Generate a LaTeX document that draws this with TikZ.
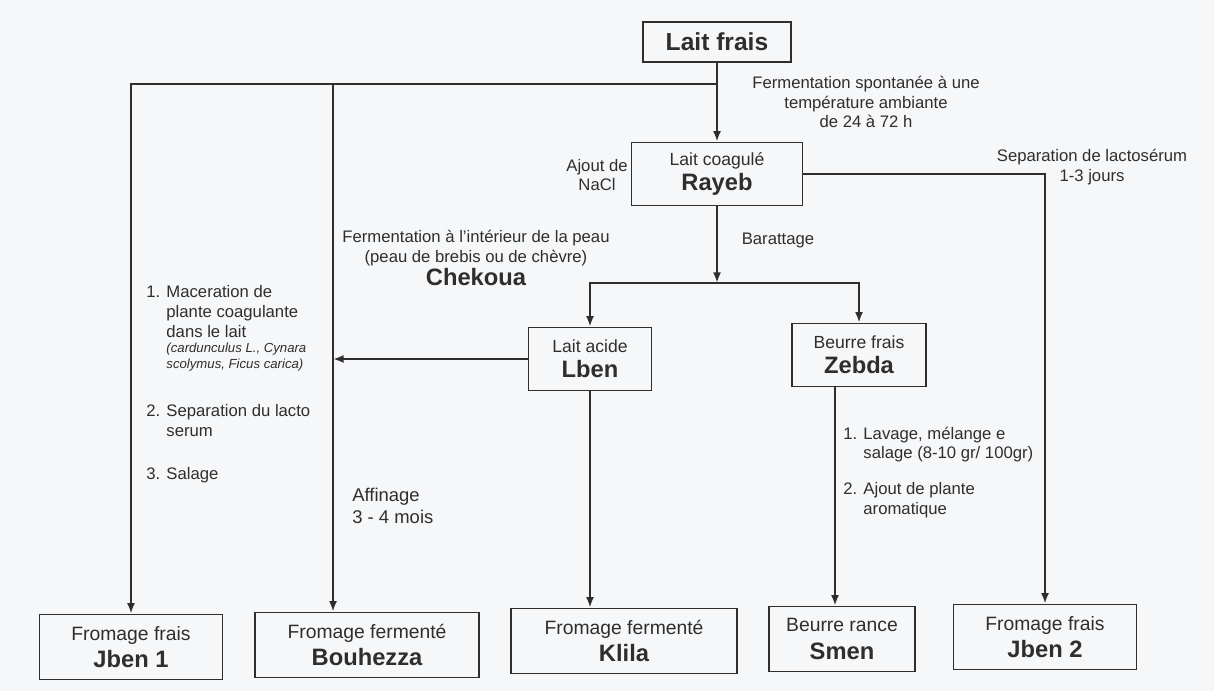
\documentclass[tikz,border=0pt]{standalone}
\usepackage{fontspec}
\setmainfont{Liberation Sans}
\usetikzlibrary{arrows.meta, positioning}
\definecolor{inkgray}{HTML}{2E2E2E}
\definecolor{paper}{HTML}{F6F7F9}
\newcommand\boxname[1]{{\fontsize{13.5}{16}\selectfont\bfseries #1}}

\begin{document}
\begin{tikzpicture}[x=0.02cm, y=-0.02cm,
    box/.style n args={2}{draw=inkgray, line width=0.9pt, minimum width=#1*0.02cm,
        minimum height=#2*0.02cm, inner sep=0pt, align=center, text=inkgray,
        font=\fontsize{10}{14.5}\selectfont},
    prod/.style={font=\fontsize{11}{15.5}\selectfont},
    link/.style={draw=inkgray, line width=1.2pt},
    arr/.style={link, -{Latex[length=6pt, width=4.5pt]}},
    note/.style={text=inkgray, font=\fontsize{9.5}{11.3}\selectfont, inner sep=0pt}]
    % Page
    \fill[paper] (0,0) rectangle (1214,691);
    \useasboundingbox (0,0) rectangle (1214,691);
    % Milk and its first products
    \node[box={148}{40}, font=\fontsize{14}{16}\selectfont\bfseries] (frais) at (717,42) {Lait frais};
    \node[box={171}{63}] (rayeb) at (717,174) {Lait coagulé\\\boxname{Rayeb}};
    \node[box={123}{63}] (lben) at (590,359) {Lait acide\\\boxname{Lben}};
    \node[box={134}{63}] (zebda) at (859,355) {Beurre frais\\\boxname{Zebda}};
    % Final products
    \foreach \nm/\cx/\cy/\w/\kind/\prodname in {
        jbenA/131/647/183/Fromage frais/Jben 1,
        bouh/367/645/224/Fromage fermenté/Bouhezza,
        klila/624/641/226/Fromage fermenté/Klila,
        smen/842/639/146/Beurre rance/Smen,
        jbenB/1045/637/183/Fromage frais/Jben 2}
        \node[box={\w}{65}, prod] (\nm) at (\cx,\cy) {\kind\\\boxname{\prodname}};
    % Junctions
    \coordinate (jtop) at (717,84);
    \coordinate (colB) at (333,84);
    \coordinate (jmid) at (717,283);
    \coordinate (colD) at ([xshift=-0.48cm]zebda.south);
    % Connectors
    \draw[arr] (frais) -- (rayeb);
    \draw[arr] (jtop) -| (jbenA.north);
    \draw[arr] (colB) -- (colB |- bouh.north);
    \draw[arr] (rayeb.east) -| (jbenB.north);
    \draw[arr] (rayeb) -- (jmid);
    \draw[arr] (jmid) -| (lben.north);
    \draw[arr] (jmid) -| (zebda.north);
    \draw[arr] (lben.west) -- (lben.west -| colB);
    \draw[arr] (lben.south) -- (lben.south |- klila.north);
    \draw[arr] (colD) -- (colD |- smen.north);
    % Process notes
    \node[note, align=center] (spont) at (866,102) {Fermentation spontanée à une\\température ambiante\\de 24 à 72 h};
    \node[note, align=center] (nacl) at (597,175) {Ajout de\\NaCl};
    \node[note, align=center] (sepa) at (1092,167) {Separation de lactosérum\\1-3 jours};
    \node[note] (baratt) at (778,240) {Barattage};
    \node[note, align=center] (chek) at (476,258) {Fermentation à l'intérieur de la peau\\(peau de brebis ou de chèvre)\\\boxname{Chekoua}};
    \node[note, anchor=north west, align=left] (stepA) at (146,285) {1. Maceration de\\\phantom{1. }plante coagulante\\\phantom{1. }dans le lait\\[-2.5pt]
        \phantom{1. }{\fontsize{7.5}{9}\selectfont\itshape (cardunculus L., Cynara}\\[-2.5pt]
        \phantom{1. }{\fontsize{7.5}{9}\selectfont\itshape scolymus, Ficus carica)}};
    \node[note, anchor=north west, align=left] (stepB) at (146,404) {2. Separation du lacto\\\phantom{2. }serum};
    \node[note, anchor=north west] (stepC) at (146,467) {3. Salage};
    \node[note, anchor=north west, align=left, font=\fontsize{10.5}{12.5}\selectfont] (affin) at (352,488) {Affinage\\3 - 4 mois};
    \node[note, anchor=north west, align=left, font=\fontsize{9.5}{10.5}\selectfont] (lavage) at (843,427) {1. Lavage, mélange e\\\phantom{1. }salage (8-10 gr/ 100gr)};
    \node[note, anchor=north west, align=left] (aromat) at (843,482) {2. Ajout de plante\\\phantom{2. }aromatique};
\end{tikzpicture}
\end{document}
